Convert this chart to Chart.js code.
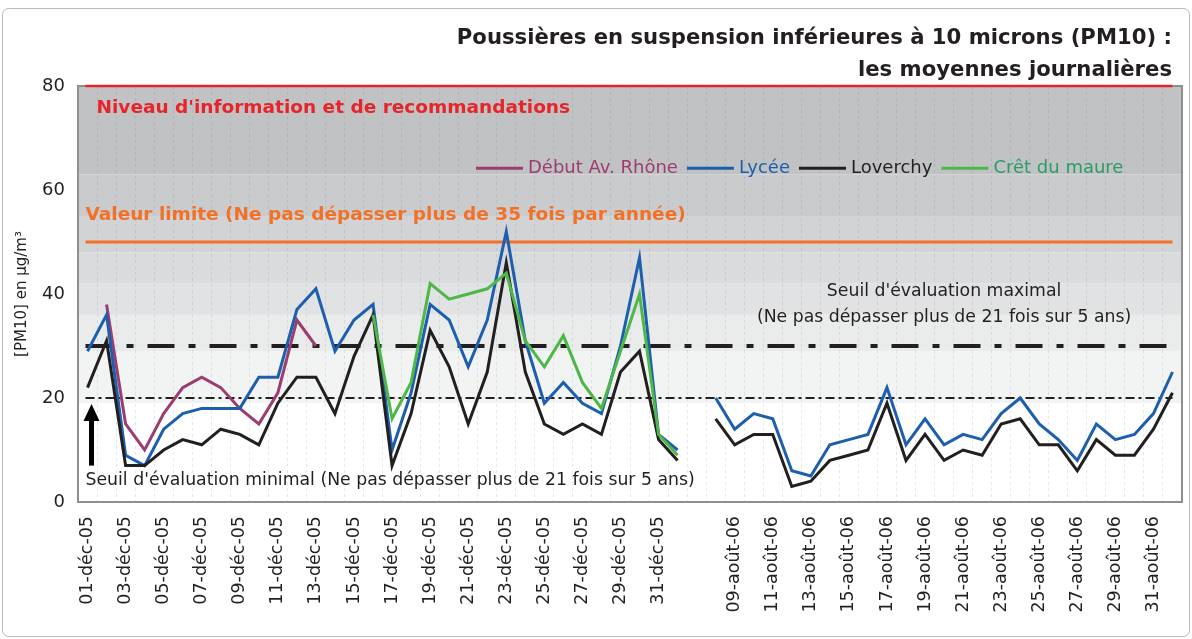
<!DOCTYPE html>
<html lang="fr">
<head>
<meta charset="utf-8">
<title>PM10 - moyennes journalières</title>
<script src="https://cdn.jsdelivr.net/npm/chart.js@4.4.1/dist/chart.umd.min.js"></script>
<style>
  html, body { margin: 0; padding: 0; background: #fff; }
  #wrap { width: 1192px; height: 639px; }
</style>
</head>
<body>
<div id="wrap"><canvas id="pm10" width="1192" height="639"></canvas></div>
<script>
// Categories: December 2005 (+ 1st of January), one empty slot, August 2006 (+ 1st of September)
var decDays = ['01-déc-05', '02-déc-05', '03-déc-05', '04-déc-05', '05-déc-05', '06-déc-05', '07-déc-05', '08-déc-05',
    '09-déc-05', '10-déc-05', '11-déc-05', '12-déc-05', '13-déc-05', '14-déc-05', '15-déc-05', '16-déc-05',
    '17-déc-05', '18-déc-05', '19-déc-05', '20-déc-05', '21-déc-05', '22-déc-05', '23-déc-05', '24-déc-05',
    '25-déc-05', '26-déc-05', '27-déc-05', '28-déc-05', '29-déc-05', '30-déc-05', '31-déc-05', '01-janv-06'];
var augDays = ['08-août-06', '09-août-06', '10-août-06', '11-août-06', '12-août-06', '13-août-06', '14-août-06',
    '15-août-06', '16-août-06', '17-août-06', '18-août-06', '19-août-06', '20-août-06', '21-août-06', '22-août-06',
    '23-août-06', '24-août-06', '25-août-06', '26-août-06', '27-août-06', '28-août-06', '29-août-06', '30-août-06',
    '31-août-06', '01-sept-06'];

// Daily means in µg/m3 (null = no measure)
var rhoneDec = [null, 38, 15, 10, 17, 22, 24, 22, 18, 15, 21, 35, 30, null, null, null,
    null, null, null, null, null, null, null, null, null, null, null, null, null, null, null, null];
var lyceeDec = [29, 36, 9, 7, 14, 17, 18, 18, 18, 24, 24, 37, 41, 29, 35, 38,
    10, 21, 38, 35, 26, 35, 52, 31, 19, 23, 19, 17, 30, 47, 13, 10];
var lyceeAug = [20, 14, 17, 16, 6, 5, 11, 12, 13, 22, 11, 16, 11, 13, 12, 17, 20, 15, 12, 8, 15, 12, 13, 17, 25];
var loverchyDec = [22, 31, 7, 7, 10, 12, 11, 14, 13, 11, 19, 24, 24, 17, 28, 36,
    7, 17, 33, 26, 15, 25, 46, 25, 15, 13, 15, 13, 25, 29, 12, 8];
var loverchyAug = [16, 11, 13, 13, 3, 4, 8, 9, 10, 19, 8, 13, 8, 10, 9, 15, 16, 11, 11, 6, 12, 9, 9, 14, 21];
var cretDec = [null, null, null, null, null, null, null, null, null, null, null, null, null, null, null, 36,
    16, 23, 42, 39, 40, 41, 44, 31, 26, 32, 23, 18, 29, 40, 13, 9];

// Regulatory thresholds (µg/m3)
var niveauInfo = 80;
var valeurLimite = 50;
var seuilMax = 30;
var seuilMin = 20;

// Grey background bands (limits in µg/m3)
var bandLimits = [19, 29, 36, 42, 48, 55, 63, 80];
var bandColors = ['#f2f3f3', '#eaebeb', '#e1e2e3', '#dadbdc', '#d2d3d5', '#cacbcd', '#c1c2c4'];

var yTicks = [0, 20, 40, 60, 80];

var FONT = '"DejaVu Sans", Verdana, sans-serif';
var INK = '#231f20';

function noAug() {
    var a = [];
    for (var i = 0; i < augDays.length; i++) a.push(null);
    return a;
}

var labels = decDays.concat([''], augDays);

// Draws the bands, threshold lines, notes, arrow, legend and title
var decorPlugin = {
    id: 'pm10Decor',
    beforeDraw: function (chart) {
        var ctx = chart.ctx, area = chart.chartArea, y = chart.scales.y;
        ctx.save();
        ctx.fillStyle = '#fff';
        ctx.fillRect(0, 0, chart.width, chart.height);
        ctx.strokeStyle = '#b9b9b9';
        ctx.lineWidth = 1;
        ctx.beginPath();
        if (ctx.roundRect) ctx.roundRect(2.5, 8.5, 1187, 628, 6);
        else ctx.rect(2.5, 8.5, 1187, 628);
        ctx.stroke();
        for (var i = 0; i < bandColors.length; i++) {
            var top = y.getPixelForValue(bandLimits[i + 1]);
            var bot = y.getPixelForValue(bandLimits[i]);
            ctx.fillStyle = bandColors[i];
            ctx.fillRect(area.left, top, area.right - area.left, bot - top);
        }
        ctx.restore();
    },
    beforeDatasetsDraw: function (chart) {
        var ctx = chart.ctx, area = chart.chartArea, x = chart.scales.x, y = chart.scales.y;
        var x0 = x.getPixelForValue(0) - 2;
        var x1 = x.getPixelForValue(labels.length - 1);
        ctx.save();
        // plot frame
        ctx.strokeStyle = '#8f8f8f';
        ctx.lineWidth = 2;
        ctx.strokeRect(area.left, area.top, area.right - area.left, area.bottom - area.top);

        function hline(v, color, width, dash) {
            var py = y.getPixelForValue(v);
            ctx.strokeStyle = color;
            ctx.lineWidth = width;
            ctx.setLineDash(dash);
            ctx.beginPath();
            ctx.moveTo(x0, py);
            ctx.lineTo(x1, py);
            ctx.stroke();
        }
        hline(niveauInfo, '#e8242b', 2.5, []);
        hline(valeurLimite, '#f27127', 3, []);
        hline(seuilMax, INK, 4, [27, 14, 7, 14]);
        hline(seuilMin, INK, 2, [9, 4, 3, 4]);
        ctx.restore();
    },
    afterDatasetsDraw: function (chart) {
        var ctx = chart.ctx, area = chart.chartArea, x = chart.scales.x, y = chart.scales.y;
        var x0 = x.getPixelForValue(0);
        ctx.save();
        ctx.textBaseline = 'middle';

        ctx.font = 'bold 18.5px ' + FONT;
        ctx.fillStyle = '#e8242b';
        ctx.textAlign = 'left';
        ctx.fillText("Niveau d'information et de recommandations", x0 + 9, y.getPixelForValue(75.8));
        ctx.fillStyle = '#f27127';
        ctx.fillText('Valeur limite (Ne pas dépasser plus de 35 fois par année)', x0 - 2, y.getPixelForValue(55.2));

        ctx.font = '17.3px ' + FONT;
        ctx.fillStyle = INK;
        ctx.textAlign = 'center';
        var cx = x.getPixelForValue(45);
        ctx.fillText("Seuil d'évaluation maximal", cx, y.getPixelForValue(40.4));
        ctx.fillText('(Ne pas dépasser plus de 21 fois sur 5 ans)', cx, y.getPixelForValue(35.4));
        ctx.textAlign = 'left';
        ctx.fillText("Seuil d'évaluation minimal (Ne pas dépasser plus de 21 fois sur 5 ans)", x0 - 2, y.getPixelForValue(4.1));

        // arrow pointing at the lower threshold
        var ax = x0 + 4;
        var tip = y.getPixelForValue(seuilMin) + 6;
        ctx.fillStyle = '#000';
        ctx.fillRect(ax - 2.5, tip + 14, 5, y.getPixelForValue(7) - tip - 14);
        ctx.beginPath();
        ctx.moveTo(ax, tip);
        ctx.lineTo(ax + 8, tip + 17);
        ctx.lineTo(ax - 8, tip + 17);
        ctx.closePath();
        ctx.fill();

        // legend inside the plot
        var lx = 476, ly = y.getPixelForValue(64.2);
        ctx.font = '18px ' + FONT;
        chart.data.datasets.forEach(function (ds) {
            ctx.strokeStyle = ds.borderColor;
            ctx.lineWidth = 3;
            ctx.beginPath();
            ctx.moveTo(lx, ly);
            ctx.lineTo(lx + 47, ly);
            ctx.stroke();
            ctx.fillStyle = ds.legendColor;
            ctx.fillText(ds.label, lx + 52, ly);
            lx += 52 + ctx.measureText(ds.label).width + 9;
        });

        // title
        ctx.font = 'bold 21.2px ' + FONT;
        ctx.fillStyle = INK;
        ctx.textAlign = 'right';
        ctx.fillText('Poussières en suspension inférieures à 10 microns (PM10) :', 1172, 38);
        ctx.fillText('les moyennes journalières', 1172, 70);
        ctx.restore();
    }
};

var ctx = document.getElementById('pm10').getContext('2d');
var pm10Chart = new Chart(ctx, {
    type: 'line',
    data: {
        labels: labels,
        datasets: [{
            label: 'Début Av. Rhône',
            data: rhoneDec.concat([null], noAug()),
            borderColor: '#9c3d6f',
            legendColor: '#9c3d6f',
            order: 4
        }, {
            label: 'Lycée',
            data: lyceeDec.concat([null], lyceeAug),
            borderColor: '#1d5fae',
            legendColor: '#1d5fae',
            order: 3
        }, {
            label: 'Loverchy',
            data: loverchyDec.concat([null], loverchyAug),
            borderColor: INK,
            legendColor: INK,
            order: 2
        }, {
            label: 'Crêt du maure',
            data: cretDec.concat([null], noAug()),
            borderColor: '#4db848',
            legendColor: '#2a9d66',
            order: 1
        }]
    },
    options: {
        responsive: false,
        animation: false,
        spanGaps: false,
        elements: {
            line: { borderWidth: 3, tension: 0, fill: false, borderJoinStyle: 'miter' },
            point: { radius: 0, hoverRadius: 0 }
        },
        layout: { padding: { top: 86, right: 10, bottom: 0, left: 0 } },
        plugins: {
            legend: { display: false },
            tooltip: { enabled: false },
            title: { display: false }
        },
        scales: {
            x: {
                offset: true,
                grid: { display: true, offset: true, color: 'rgba(110,110,110,0.16)', lineWidth: 1, drawTicks: false },
                border: { display: false, dash: [3, 3] },
                ticks: {
                    autoSkip: false,
                    minRotation: 90,
                    maxRotation: 90,
                    padding: 14,
                    color: INK,
                    font: { family: FONT, size: 17.5 },
                    callback: function (val, index) {
                        return index % 2 === 0 ? this.getLabelForValue(val) : '';
                    }
                },
                afterFit: function (scale) {
                    scale.height = 137;
                    scale.paddingLeft = 0;
                    scale.paddingRight = 0;
                }
            },
            y: {
                min: 0,
                max: 80,
                afterBuildTicks: function (scale) {
                    scale.ticks = yTicks.map(function (v) { return { value: v }; });
                },
                grid: { display: false, drawTicks: false },
                border: { display: false },
                ticks: { padding: 13, color: INK, font: { family: FONT, size: 18 } },
                title: {
                    display: true,
                    text: '[PM10] en µg/m³',
                    color: INK,
                    font: { family: FONT, size: 15 },
                    padding: { top: 13, bottom: 0 }
                },
                afterFit: function (scale) {
                    scale.width = 78;
                    scale.paddingTop = 0;
                    scale.paddingBottom = 0;
                }
            }
        }
    },
    plugins: [decorPlugin]
});
</script>
</body>
</html>
